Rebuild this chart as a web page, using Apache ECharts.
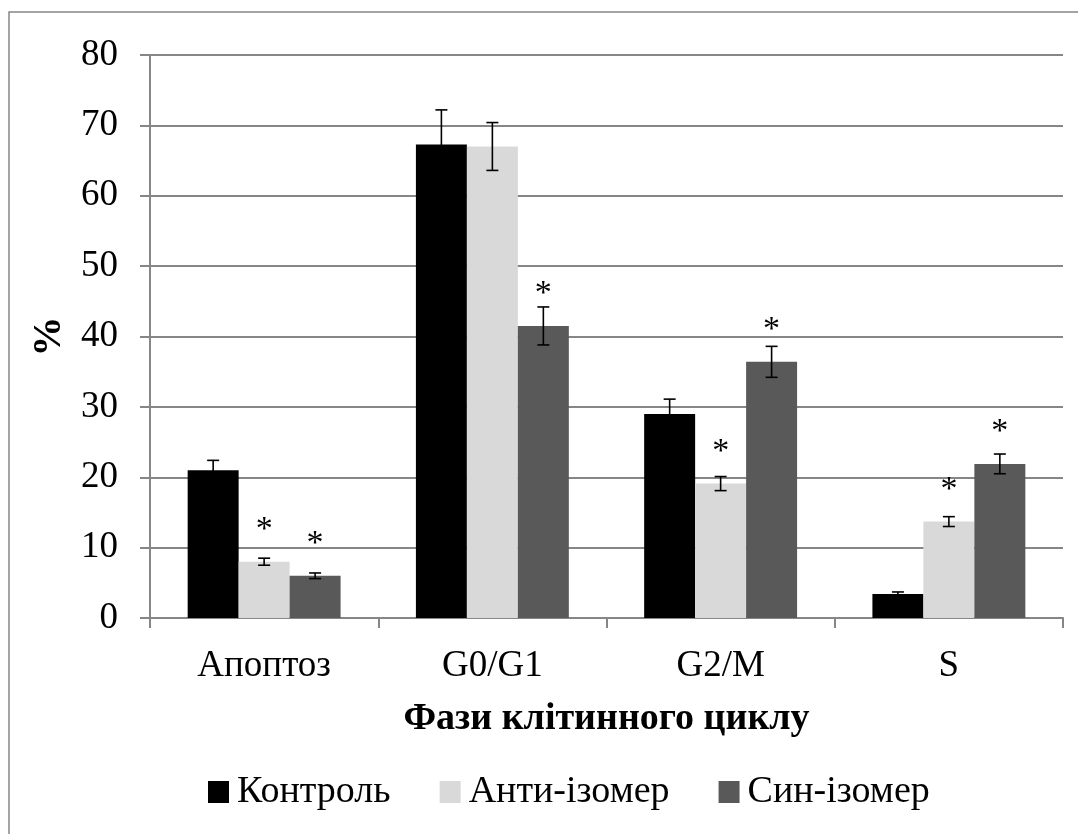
<!DOCTYPE html>
<html>
<head>
<meta charset="utf-8">
<script src="https://cdn.jsdelivr.net/npm/echarts@6/dist/echarts.min.js"></script>
<style>
  html, body { margin: 0; padding: 0; background: #fff; }
  #chart { width: 1078px; height: 834px; }
</style>
</head>
<body>
<div id="chart"></div>
<script>
// Cell-cycle phase distribution (%), mean ± error
const categories = ['Апоптоз', 'G0/G1', 'G2/M', 'S'];
const seriesNames = ['Контроль', 'Анти-ізомер', 'Син-ізомер'];

const controlValues = [21.0, 67.3, 29.0, 3.4];
const controlErrors = [1.4, 4.9, 2.1, 0.3];
const controlSignificant = [false, false, false, false];

const antiValues = [8.0, 67.0, 19.1, 13.7];
const antiErrors = [0.5, 3.4, 1.0, 0.7];
const antiSignificant = [true, false, true, true];

const synValues = [6.0, 41.5, 36.4, 21.9];
const synErrors = [0.4, 2.7, 2.2, 1.4];
const synSignificant = [true, true, true, true];

const yTicks = { min: 0, max: 80, interval: 10 };

const colors = ['#000000', '#d9d9d9', '#595959'];
const FONT = '"Liberation Serif", "Times New Roman", serif';
const AXIS_GREY = '#868686';
const CATEGORY_GAP = 0.33;

const groups = [
  { values: controlValues, errors: controlErrors, sig: controlSignificant },
  { values: antiValues, errors: antiErrors, sig: antiSignificant },
  { values: synValues, errors: synErrors, sig: synSignificant }
];

function barSeries(g, k) {
  return {
    name: seriesNames[k],
    type: 'bar',
    barGap: '0%',
    barCategoryGap: (CATEGORY_GAP * 100) + '%',
    itemStyle: { color: colors[k] },
    data: g.values.map((v, i) => ({
      value: v,
      label: {
        show: g.sig[i],
        position: 'top',
        distance: 15,
        formatter: '*',
        fontFamily: FONT,
        fontSize: 34,
        color: '#000'
      }
    }))
  };
}

function errorSeries(g, k) {
  return {
    type: 'custom',
    name: seriesNames[k] + ' err',
    z: 5,
    silent: true,
    encode: { x: 0, y: 1 },
    data: g.values.map((v, i) => [i, v, g.errors[i]]),
    renderItem: function (params, api) {
      const cat = api.value(0);
      const v = api.value(1);
      const e = api.value(2);
      const band = api.size([1, 0])[0];
      const bw = band * (1 - CATEGORY_GAP) / 3;
      const x = api.coord([cat, v])[0] + (k - 1) * bw;
      const yHi = api.coord([cat, v + e])[1];
      const yLo = api.coord([cat, v - e])[1];
      const cap = 6;
      const style = { stroke: '#000', lineWidth: 1.6 };
      return {
        type: 'group',
        children: [
          { type: 'line', shape: { x1: x, y1: yHi, x2: x, y2: yLo }, style: style },
          { type: 'line', shape: { x1: x - cap, y1: yHi, x2: x + cap, y2: yHi }, style: style },
          { type: 'line', shape: { x1: x - cap, y1: yLo, x2: x + cap, y2: yLo }, style: style }
        ]
      };
    }
  };
}

const chart = echarts.init(document.getElementById('chart'), null, { renderer: 'canvas' });

chart.setOption({
  backgroundColor: '#ffffff',
  animation: false,
  textStyle: { fontFamily: FONT },
  // chart-area frame: left and top edges
  graphic: [
    {
      type: 'polyline',
      shape: { points: [[9, 834], [9, 12], [1078, 12]] },
      style: { fill: 'none', stroke: AXIS_GREY, lineWidth: 1.5 },
      silent: true
    }
  ],
  grid: { left: 150, right: 15, top: 55, bottom: 216 },
  legend: {
    data: seriesNames,
    top: 768,
    left: 203,
    itemWidth: 21,
    itemHeight: 22,
    itemGap: 49,
    icon: 'rect',
    textStyle: { fontFamily: FONT, fontSize: 38, color: '#000', padding: [0, 0, 0, 3] }
  },
  xAxis: {
    type: 'category',
    data: categories,
    name: 'Фази клітинного циклу',
    nameLocation: 'middle',
    nameGap: 82,
    nameTextStyle: { fontFamily: FONT, fontSize: 38, fontWeight: 'bold', color: '#000' },
    axisLine: { lineStyle: { color: AXIS_GREY, width: 2 } },
    axisTick: { show: true, length: 10, lineStyle: { color: AXIS_GREY, width: 2 } },
    axisLabel: { fontFamily: FONT, fontSize: 37, color: '#000', margin: 30 }
  },
  yAxis: {
    type: 'value',
    min: yTicks.min,
    max: yTicks.max,
    interval: yTicks.interval,
    name: '%',
    nameLocation: 'middle',
    nameGap: 76,
    nameRotate: 90,
    nameTextStyle: { fontFamily: FONT, fontSize: 40, fontWeight: 'bold', color: '#000' },
    axisLine: { show: true, lineStyle: { color: AXIS_GREY, width: 2 } },
    axisTick: { show: true, length: 10, lineStyle: { color: AXIS_GREY, width: 2 } },
    axisLabel: { fontFamily: FONT, fontSize: 37, color: '#000', margin: 32 },
    splitLine: { lineStyle: { color: AXIS_GREY, width: 2 } }
  },
  series: [
    ...groups.map(barSeries),
    ...groups.map(errorSeries)
  ]
});
</script>
</body>
</html>
